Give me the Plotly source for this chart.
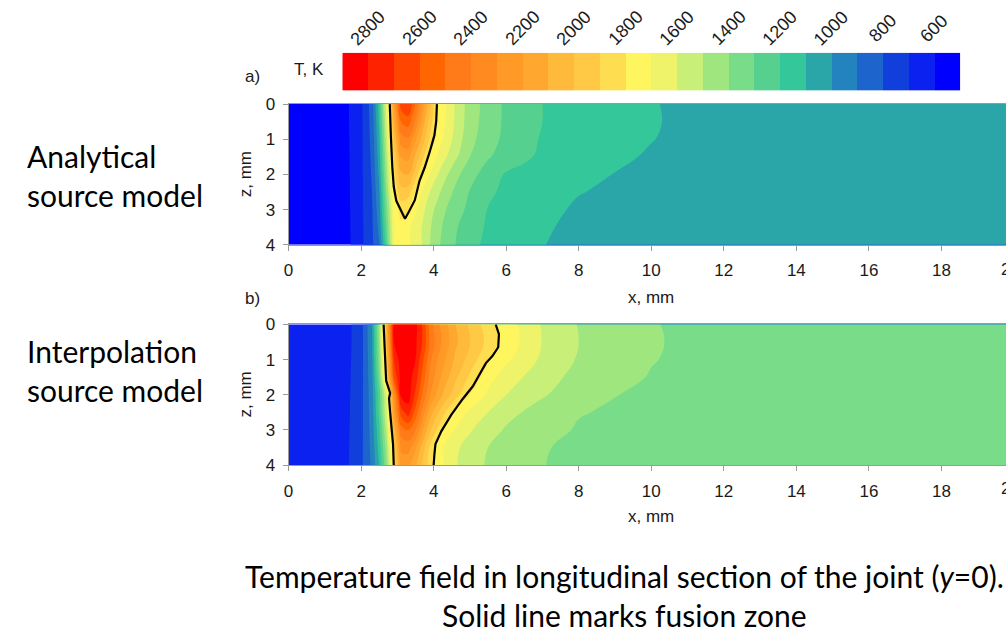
import plotly.graph_objects as go

# ---------------- data ----------------
# temperature bands (K), 100 K wide, from 500 to 2900
band_edges = list(range(500, 3000, 100))
band_colors = ["#0000FF", "#0A21EF", "#113FDC", "#1D64CD", "#2383BF", "#2AA5A8",
               "#33C79A", "#56D08E", "#78DC88", "#A0E67E", "#C8F078", "#EEF36A",
               "#FFF55F", "#FFDD50", "#FFC845", "#FFBA3C", "#FFA72F", "#FF9A26",
               "#FF8A20", "#FF7A18", "#FF6500", "#FF4500", "#FF2200", "#FF0000"]
cbar_ticks = [2800, 2600, 2400, 2200, 2000, 1800, 1600, 1400, 1200, 1000, 800, 600]

x_nodes = [0, 1, 1.6, 2.0, 2.3, 2.5, 2.7, 2.9, 3.1, 3.3, 3.5, 3.7, 3.9, 4.1, 4.3,
           4.6, 5.0, 5.5, 6.0, 7.0, 8.0, 9.0, 10.0, 11.0, 12.0, 14.0, 17.0, 20.0]
z_nodes = [0, 0.5, 1.0, 1.5, 2.0, 2.5, 3.0, 3.5, 4.0]

# a) analytical source model
T_a = [
    [520, 540, 585, 680, 850, 1160, 1650, 2200, 2650, 2700, 2500, 2250, 2030, 1795, 1720, 1590, 1450, 1360, 1280, 1200, 1160, 1130, 1103, 1090, 1080, 1065, 1050, 1040],
    [520, 540, 584, 680, 840, 1120, 1600, 2100, 2500, 2550, 2380, 2150, 1950, 1780, 1710, 1585, 1445, 1355, 1280, 1200, 1160, 1130, 1105, 1088, 1078, 1065, 1050, 1040],
    [520, 540, 582, 680, 830, 1080, 1550, 1980, 2350, 2380, 2220, 2050, 1880, 1760, 1680, 1565, 1430, 1340, 1275, 1190, 1150, 1125, 1102, 1085, 1075, 1062, 1050, 1040],
    [520, 540, 580, 680, 820, 1050, 1500, 1900, 2200, 2230, 2080, 1920, 1780, 1690, 1620, 1520, 1400, 1310, 1255, 1180, 1140, 1112, 1093, 1080, 1072, 1060, 1048, 1040],
    [520, 540, 578, 680, 810, 1020, 1450, 1850, 2080, 2100, 1950, 1780, 1695, 1605, 1530, 1430, 1340, 1250, 1190, 1160, 1125, 1098, 1085, 1075, 1068, 1058, 1047, 1040],
    [520, 540, 576, 680, 800, 990, 1400, 1800, 1960, 1950, 1790, 1680, 1600, 1530, 1460, 1380, 1295, 1220, 1175, 1140, 1103, 1088, 1078, 1070, 1064, 1055, 1046, 1040],
    [520, 540, 574, 680, 790, 960, 1350, 1720, 1840, 1800, 1715, 1625, 1540, 1470, 1410, 1340, 1275, 1195, 1160, 1120, 1090, 1080, 1072, 1066, 1060, 1052, 1045, 1040],
    [520, 540, 572, 680, 785, 930, 1300, 1690, 1770, 1720, 1660, 1590, 1510, 1440, 1380, 1310, 1250, 1185, 1150, 1108, 1085, 1075, 1068, 1062, 1058, 1050, 1044, 1040],
    [520, 540, 570, 680, 780, 900, 1250, 1700, 1760, 1715, 1670, 1590, 1500, 1420, 1370, 1300, 1225, 1180, 1145, 1102, 1082, 1073, 1066, 1060, 1056, 1050, 1044, 1040],
]

# b) interpolation source model
T_b = [
    [640, 650, 670, 760, 1000, 1450, 2100, 2820, 2880, 2880, 2830, 2680, 2450, 2330, 2240, 2100, 1980, 1840, 1750, 1590, 1495, 1450, 1405, 1385, 1370, 1355, 1345, 1340],
    [640, 650, 670, 760, 990, 1420, 2050, 2800, 2880, 2880, 2820, 2690, 2480, 2350, 2260, 2120, 2000, 1870, 1760, 1595, 1500, 1455, 1408, 1386, 1372, 1356, 1346, 1340],
    [640, 650, 672, 762, 980, 1380, 1980, 2700, 2860, 2870, 2800, 2620, 2420, 2300, 2210, 2080, 1960, 1810, 1720, 1580, 1490, 1440, 1404, 1384, 1372, 1356, 1346, 1340],
    [640, 650, 675, 765, 970, 1330, 1900, 2600, 2840, 2850, 2750, 2560, 2370, 2250, 2150, 2020, 1880, 1740, 1650, 1540, 1470, 1425, 1395, 1380, 1370, 1355, 1346, 1340],
    [640, 650, 678, 768, 960, 1250, 1620, 2300, 2830, 2850, 2680, 2480, 2300, 2180, 2070, 1940, 1795, 1680, 1600, 1510, 1445, 1402, 1385, 1374, 1366, 1353, 1345, 1340],
    [640, 650, 680, 770, 950, 1230, 1600, 2200, 2650, 2750, 2560, 2350, 2150, 2020, 1910, 1780, 1680, 1600, 1530, 1460, 1405, 1390, 1378, 1370, 1362, 1352, 1344, 1340],
    [640, 650, 682, 772, 940, 1180, 1520, 2050, 2450, 2500, 2400, 2200, 2020, 1890, 1780, 1690, 1610, 1540, 1490, 1430, 1392, 1382, 1373, 1366, 1360, 1351, 1344, 1340],
    [640, 650, 684, 775, 930, 1140, 1450, 1920, 2320, 2340, 2220, 2050, 1880, 1760, 1690, 1620, 1560, 1500, 1460, 1405, 1385, 1378, 1370, 1364, 1358, 1350, 1343, 1340],
    [640, 650, 686, 778, 920, 1100, 1400, 1850, 2250, 2220, 2120, 1990, 1850, 1740, 1700, 1610, 1540, 1490, 1450, 1402, 1383, 1376, 1368, 1362, 1356, 1350, 1343, 1340],
]

# fusion zone boundaries (x, z in mm)
fz_a_x = [2.79, 2.80, 2.82, 2.86, 2.90, 2.97, 3.08, 3.21, 3.32, 3.48, 3.61, 3.75, 3.89, 4.02, 4.07, 4.09]
fz_a_z = [0.0, 0.5, 0.9, 1.8, 2.35, 2.75, 3.0, 3.26, 3.05, 2.73, 2.18, 1.81, 1.36, 0.89, 0.5, 0.0]
fz_b_left_x = [2.62, 2.64, 2.66, 2.69, 2.80, 2.77, 2.80, 2.85, 2.88, 2.90]
fz_b_left_z = [0.0, 0.5, 1.0, 1.6, 1.95, 2.1, 2.5, 3.0, 3.4, 4.0]
fz_b_right_x = [5.71, 5.80, 5.78, 5.62, 5.44, 5.08, 4.80, 4.48, 4.21, 4.05, 4.02, 4.00]
fz_b_right_z = [0.0, 0.28, 0.65, 0.9, 1.1, 1.76, 2.12, 2.58, 3.04, 3.4, 3.7, 4.0]

x_ticks = [0, 2, 4, 6, 8, 10, 12, 14, 16, 18]
z_ticks = [0, 1, 2, 3, 4]

# ---------------- figure ----------------
W, H = 1006, 643
px_per_mm = 36.45
x0_px = 285

def px(x):
    return x / W

def py(y):
    return 1 - y / H

nb = len(band_colors)
contour_cs = [[j / (nb - 1), c] for j, c in enumerate(band_colors)]
step_cs = []
for i, c in enumerate(band_colors):
    step_cs.append([i / nb, c])
    step_cs.append([(i + 1) / nb, c])

FONT = "Liberation Sans, Arial, sans-serif"
fig = go.Figure()

contour_common = dict(
    x=x_nodes, y=z_nodes, colorscale=contour_cs, autocontour=False,
    contours=dict(start=600, end=2800, size=100, coloring="fill", showlines=False),
    line=dict(width=0, smoothing=1.3), showscale=False, hoverinfo="skip",
)
fig.add_trace(go.Contour(z=T_a, xaxis="x", yaxis="y", **contour_common))
fig.add_trace(go.Contour(z=T_b, xaxis="x2", yaxis="y2", **contour_common))

line_style = dict(color="black", width=2.2)
fig.add_trace(go.Scatter(x=fz_a_x, y=fz_a_z, mode="lines", line=line_style,
                         xaxis="x", yaxis="y", showlegend=False, hoverinfo="skip"))
fig.add_trace(go.Scatter(x=fz_b_left_x, y=fz_b_left_z, mode="lines", line=line_style,
                         xaxis="x2", yaxis="y2", showlegend=False, hoverinfo="skip"))
fig.add_trace(go.Scatter(x=fz_b_right_x, y=fz_b_right_z, mode="lines", line=line_style,
                         xaxis="x2", yaxis="y2", showlegend=False, hoverinfo="skip"))

# colour bar drawn as a heatmap strip
band_mids = [e + 50 for e in band_edges[:-1]]
fig.add_trace(go.Heatmap(x=band_mids, y=[0], z=[band_mids], zmin=500, zmax=2900,
                         colorscale=step_cs, showscale=False, xaxis="x3", yaxis="y3",
                         hoverinfo="skip"))

x_range = [0, (W - x0_px) / px_per_mm]
xcommon = dict(range=x_range, tickvals=x_ticks, ticks="outside", ticklen=5,
               tickcolor="#9a9a9a", showline=True, linecolor="#9a9a9a", linewidth=1,
               mirror=True, showgrid=False, zeroline=False,
               tickfont=dict(family=FONT, size=17, color="#1a1a1a"),
               ticklabelstandoff=5)
ycommon = dict(range=[4, 0], tickvals=z_ticks, ticks="outside", ticklen=5,
               tickcolor="#9a9a9a", showline=True, linecolor="#9a9a9a", linewidth=1,
               showgrid=False, zeroline=False,
               tickfont=dict(family=FONT, size=17, color="#1a1a1a"),
               ticklabelstandoff=4)

fig.update_layout(
    width=W, height=H, margin=dict(l=0, r=0, t=0, b=0),
    paper_bgcolor="white", plot_bgcolor="white", showlegend=False,
    xaxis=dict(domain=[px(x0_px), 1], anchor="y", **xcommon),
    yaxis=dict(domain=[py(243), py(98)], anchor="x", **ycommon),
    xaxis2=dict(domain=[px(x0_px), 1], anchor="y2", **xcommon),
    yaxis2=dict(domain=[py(470), py(325)], anchor="x2", **ycommon),
    xaxis3=dict(domain=[px(339), px(960)], range=[2900, 500], anchor="y3",
                visible=False, showgrid=False, zeroline=False),
    yaxis3=dict(domain=[py(84), py(45)], range=[-0.5, 0.5], anchor="x3",
                visible=False, showgrid=False, zeroline=False),
)

ann = []
for t in cbar_ticks:
    ann.append(dict(x=t, xref="x3", y=py(20), yref="paper", text=str(t), showarrow=False,
                    textangle=-45, xanchor="center", yanchor="middle",
                    font=dict(family=FONT, size=18, color="#1a1a1a")))

small = dict(family=FONT, size=17, color="#1a1a1a")
ann += [
    dict(x=px(306), y=py(62), xref="paper", yref="paper", text="T, K", showarrow=False,
         xanchor="center", yanchor="middle", font=small),
    dict(x=px(249), y=py(70), xref="paper", yref="paper", text="a)", showarrow=False,
         xanchor="center", yanchor="middle", font=small),
    dict(x=px(249), y=py(298), xref="paper", yref="paper", text="b)", showarrow=False,
         xanchor="center", yanchor="middle", font=small),
    dict(x=px(x0_px + 10 * px_per_mm), y=py(297), xref="paper", yref="paper", text="x, mm",
         showarrow=False, xanchor="center", yanchor="middle", font=small),
    dict(x=px(x0_px + 10 * px_per_mm), y=py(523), xref="paper", yref="paper", text="x, mm",
         showarrow=False, xanchor="center", yanchor="middle", font=small),
    dict(x=px(242), y=py(170.5), xref="paper", yref="paper", text="z, mm", textangle=-90,
         showarrow=False, xanchor="center", yanchor="middle", font=small),
    dict(x=px(242), y=py(397.5), xref="paper", yref="paper", text="z, mm", textangle=-90,
         showarrow=False, xanchor="center", yanchor="middle", font=small),
    dict(x=px(x0_px + 20 * px_per_mm - 3), y=py(268), xref="paper", yref="paper", text="20",
         showarrow=False, xanchor="center", yanchor="middle", font=small),
    dict(x=px(x0_px + 20 * px_per_mm - 3), y=py(494), xref="paper", yref="paper", text="20",
         showarrow=False, xanchor="center", yanchor="middle", font=small),
    dict(x=px(20), y=py(172), xref="paper", yref="paper",
         text="Analytical<br>source model", showarrow=False, align="left",
         xanchor="left", yanchor="middle", font=dict(family="Lato", size=30, color="black")),
    dict(x=px(20), y=py(372), xref="paper", yref="paper",
         text="Interpolation<br>source model", showarrow=False, align="left",
         xanchor="left", yanchor="middle", font=dict(family="Lato", size=30, color="black")),
    dict(x=px(623), y=py(604), xref="paper", yref="paper",
         text="Temperature field in longitudinal section of the joint (<i>y</i>=0).<br>Solid line marks fusion zone",
         showarrow=False, align="center", xanchor="center", yanchor="middle",
         font=dict(family="Lato", size=30, color="black")),
]
fig.update_layout(annotations=ann)

fig.write_html("out.html")
